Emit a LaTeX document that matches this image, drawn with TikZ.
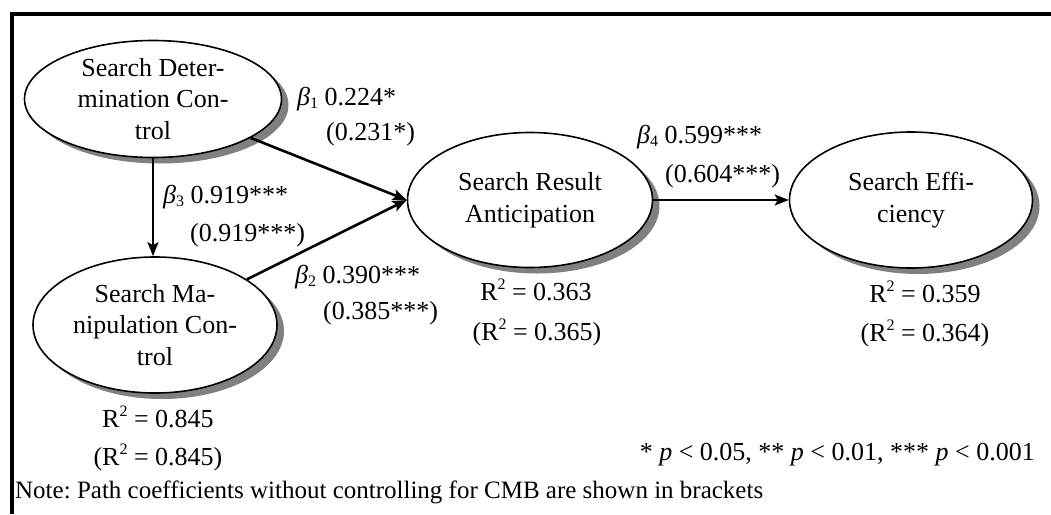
\documentclass[tikz,border=0pt]{standalone}
\usepackage{fontspec}
\setmainfont{Liberation Serif}
\RequirePackage{tikz}
\RequirePackage{tkz-euclide}
\usetikzlibrary{calc}
\usetikzlibrary{shapes.geometric}
\usetikzlibrary{arrows.meta}

\definecolor{shadowgray}{RGB}{128,128,128}
\newcommand{\sq}{\raisebox{0.42em}{\fontsize{16}{16}\selectfont 2}}
\newcommand{\bt}[1]{\textit{β}\raisebox{-0.12em}{\fontsize{16}{16}\selectfont #1}}

\tikzset{
    latent/.style={ellipse,draw,line width=1.6pt,fill=white,align=center,inner sep=0pt},
    halo/.style={ellipse,fill=shadowgray,inner sep=0pt},
    effect/.style={line width=2.6pt,-{Stealth[length=14pt,width=11pt,inset=3pt]}},
    coef/.style={anchor=base west,inner sep=0pt},
    rsq/.style={anchor=base,inner sep=0pt}
}

\begin{document}
\begin{tikzpicture}[x=1pt,y=-1pt,font=\fontsize{26}{31.5}\selectfont\frenchspacing]
                    \useasboundingbox (0,0) rectangle (1051,514);
                    \draw[line width=4pt,line join=miter] (12,514) -- (12,14) -- (1051,14);

                    \tkzDefPoint(153,99){D}
                    \tkzDefPoint(155,325){M}
                    \tkzDefPoint(530,200){R}
                    \tkzDefPoint(911,200){E}

                    \node[halo,minimum width=257pt,minimum height=117pt] (DetS) at ($(D)+(7,6)$) {};
                    \node[halo,minimum width=244pt,minimum height=136pt] (ManS) at ($(M)+(7,6)$) {};
                    \node[halo,minimum width=245pt,minimum height=135pt] (ResS) at ($(R)+(7,6)$) {};
                    \node[halo,minimum width=243pt,minimum height=136pt] (EffS) at ($(E)+(7,6)$) {};

                    \node[latent,minimum width=257pt,minimum height=117pt] (Det) at (D)
                        {Search Deter-\\mination Con-\\trol};
                    \node[latent,minimum width=244pt,minimum height=136pt] (Man) at (M)
                        {Search Ma-\\nipulation Con-\\trol};
                    \node[latent,minimum width=245pt,minimum height=135pt] (Res) at (R)
                        {Search Result\\Anticipation};
                    \node[latent,minimum width=243pt,minimum height=136pt] (Eff) at (E)
                        {Search Effi-\\ciency};

                    \draw[effect] (Det) -- (Res.west);
                    \draw[effect] (Man) -- (Res.west);
                    \draw[effect] (Det.south) -- (Det.south |- Man.north);
                    \draw[effect] (Res) -- (Eff);

                    \node[coef] (b1) at (297,105) {\bt{1} 0.224*};
                    \node[coef] (b1c) at (326,140) {(0.231*)};
                    \node[coef] (b3) at (163,203) {\bt{3} 0.919***};
                    \node[coef] (b3c) at (190,241) {(0.919***)};
                    \node[coef] (b2) at (295,283) {\bt{2} 0.390***};
                    \node[coef] (b2c) at (323,319) {(0.385***)};
                    \node[coef] (b4) at (637,143) {\bt{4} 0.599***};
                    \node[coef] (b4c) at (665,182) {(0.604***)};

                    \node[rsq] (rM) at (158,427) {R\sq{} = 0.845};
                    \node[rsq] (rMc) at (158,465) {(R\sq{} = 0.845)};
                    \node[rsq] (rR) at (536,300) {R\sq{} = 0.363};
                    \node[rsq] (rRc) at (537,340) {(R\sq{} = 0.365)};
                    \node[rsq] (rE) at (925,302) {R\sq{} = 0.359};
                    \node[rsq] (rEc) at (925,341) {(R\sq{} = 0.364)};

                    \node[anchor=base east,inner sep=0pt] (sig) at (1035,460)
                        {* \textit{p} < 0.05, ** \textit{p} < 0.01, *** \textit{p} < 0.001};
                    \node[anchor=base west,inner sep=0pt,font=\fontsize{25}{30}\selectfont\frenchspacing] (note) at (15,498)
                        {Note: Path coefficients without controlling for CMB are shown in brackets};
                \end{tikzpicture}
\end{document}
